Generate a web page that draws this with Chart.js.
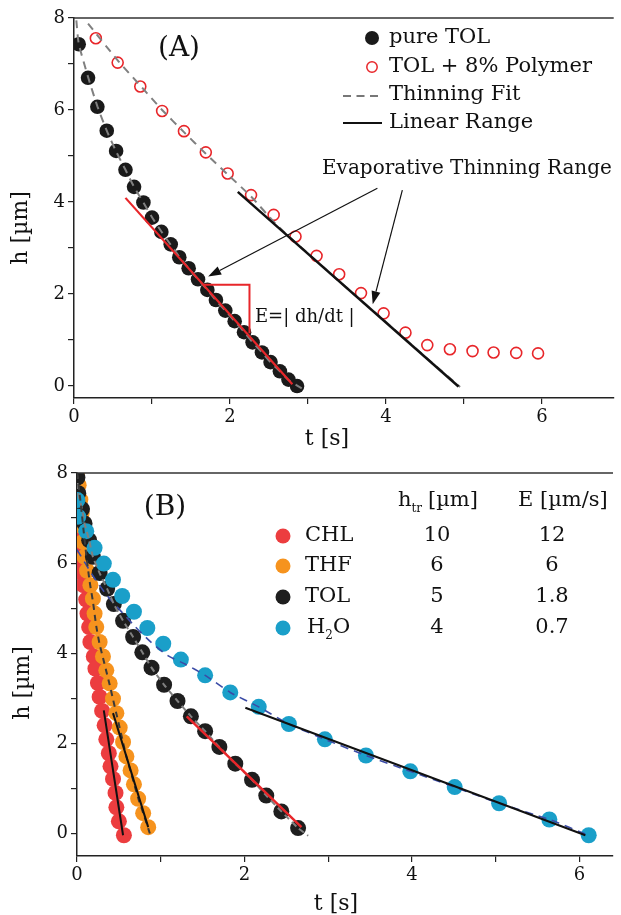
<!DOCTYPE html>
<html>
<head>
<meta charset="utf-8">
<script src="https://cdn.jsdelivr.net/npm/chart.js@4/dist/chart.umd.min.js"></script>
<style>
  html, body { margin: 0; padding: 0; background: #fff; }
  #wrap { position: relative; width: 621px; height: 915px; overflow: hidden; }
  canvas { position: absolute; left: 0; }
  #chartA { top: 0; }
  #chartB { top: 455px; }
</style>
</head>
<body>
<div id="wrap">
  <canvas id="chartA" width="621" height="455"></canvas>
  <canvas id="chartB" width="621" height="460"></canvas>
</div>
<script>
const SERIF = '"DejaVu Serif", serif';

// ---------- Panel A data ----------
const tolT = [0.06, 0.18, 0.30, 0.42, 0.54, 0.66, 0.77, 0.89, 1.00, 1.12, 1.24, 1.35, 1.47, 1.59, 1.71, 1.82, 1.94, 2.06, 2.18, 2.29, 2.41, 2.52, 2.64, 2.75, 2.86];
const tolH = [7.43, 6.70, 6.07, 5.55, 5.11, 4.70, 4.33, 3.99, 3.66, 3.35, 3.08, 2.80, 2.56, 2.32, 2.09, 1.87, 1.64, 1.41, 1.17, 0.95, 0.73, 0.52, 0.32, 0.14, 0.00];

const polyT = [0.28, 0.56, 0.85, 1.13, 1.41, 1.69, 1.97, 2.27, 2.56, 2.84, 3.11, 3.40, 3.68, 3.97, 4.25, 4.53, 4.82, 5.11, 5.38, 5.67, 5.95];
const polyH = [7.56, 7.03, 6.51, 5.98, 5.54, 5.08, 4.62, 4.15, 3.72, 3.25, 2.83, 2.43, 2.02, 1.58, 1.16, 0.89, 0.80, 0.76, 0.73, 0.72, 0.71];

const tolFitT = [0.03, 0.06, 0.18, 0.30, 0.42, 0.54, 0.66, 0.77, 0.89, 1.00, 1.12, 1.24, 1.35, 1.47, 1.59, 1.71, 1.82, 1.94, 2.06, 2.18, 2.29, 2.41, 2.52, 2.64, 2.75, 2.92];
const tolFitH = [7.95, 7.45, 6.72, 6.08, 5.55, 5.10, 4.70, 4.33, 3.99, 3.67, 3.36, 3.07, 2.81, 2.56, 2.32, 2.09, 1.86, 1.64, 1.41, 1.18, 0.95, 0.73, 0.52, 0.32, 0.13, -0.05];

const polyFitT = [0.18, 0.56, 0.85, 1.13, 1.41, 1.69, 1.97, 2.27, 2.60, 3.00, 3.50, 4.00, 4.50, 4.95];
const polyFitH = [7.88, 7.08, 6.53, 6.00, 5.52, 5.05, 4.60, 4.12, 3.50, 2.88, 2.13, 1.39, 0.64, -0.02];

const tolLinT = [0.66, 2.80];
const tolLinH = [4.09, 0.04];
const polyLinT = [2.10, 4.93];
const polyLinH = [4.22, -0.01];
const bracketT = [1.66, 2.25, 2.25];
const bracketH = [2.20, 2.20, 1.15];

// arrows: [tailT, tailH, headT, headH]
const arrowsA = [[3.89, 4.30, 1.72, 2.38], [4.21, 4.26, 3.83, 1.78]];

const xTicksA = [0, 1, 2, 3, 4, 5, 6];
const yTicksA = [0, 1, 2, 3, 4, 5, 6, 7, 8];

// ---------- Panel B data ----------
const chlT = [0.0, 0.005, 0.01, 0.015, 0.02, 0.025, 0.035, 0.075, 0.11, 0.125, 0.145, 0.16, 0.20, 0.22, 0.25, 0.27, 0.30, 0.33, 0.35, 0.38, 0.40, 0.43, 0.46, 0.47, 0.50, 0.56];
const chlH = [7.67, 7.36, 7.05, 6.74, 6.43, 6.12, 5.81, 5.51, 5.19, 4.88, 4.58, 4.25, 3.93, 3.66, 3.34, 3.03, 2.72, 2.40, 2.09, 1.78, 1.49, 1.21, 0.90, 0.58, 0.27, -0.04];

const thfT = [0.0, 0.02, 0.04, 0.055, 0.065, 0.07, 0.09, 0.12, 0.16, 0.19, 0.21, 0.23, 0.27, 0.31, 0.35, 0.39, 0.43, 0.47, 0.51, 0.55, 0.59, 0.64, 0.68, 0.73, 0.79, 0.85];
const thfH = [7.99, 7.73, 7.41, 7.10, 6.81, 6.47, 6.14, 5.83, 5.51, 5.21, 4.88, 4.58, 4.25, 3.93, 3.62, 3.33, 2.99, 2.67, 2.35, 2.03, 1.71, 1.40, 1.09, 0.77, 0.45, 0.14];

const tolBT = [0.005, 0.015, 0.06, 0.09, 0.145, 0.19, 0.27, 0.36, 0.44, 0.55, 0.67, 0.78, 0.89, 1.04, 1.20, 1.36, 1.53, 1.70, 1.89, 2.09, 2.26, 2.44, 2.64];
const tolBH = [7.90, 7.55, 7.20, 6.88, 6.51, 6.14, 5.78, 5.43, 5.09, 4.72, 4.36, 4.02, 3.68, 3.30, 2.94, 2.60, 2.27, 1.92, 1.55, 1.19, 0.84, 0.49, 0.12];

const h2oT = [0.005, 0.015, 0.11, 0.21, 0.32, 0.43, 0.54, 0.68, 0.84, 1.03, 1.24, 1.53, 1.83, 2.17, 2.53, 2.96, 3.45, 3.98, 4.51, 5.04, 5.64, 6.11];
const h2oH = [7.40, 7.03, 6.71, 6.34, 5.99, 5.63, 5.27, 4.92, 4.56, 4.21, 3.86, 3.51, 3.13, 2.81, 2.43, 2.09, 1.73, 1.38, 1.03, 0.67, 0.31, -0.04];

const thfFitT = [0.0, 0.02, 0.04, 0.06, 0.08, 0.11, 0.15, 0.19, 0.23, 0.27, 0.31, 0.35, 0.39, 0.43, 0.47, 0.51, 0.55, 0.59, 0.64, 0.69, 0.74, 0.80, 0.87];
const thfFitH = [8.0, 7.7, 7.4, 7.05, 6.7, 6.2, 5.6, 5.15, 4.6, 4.2, 3.9, 3.6, 3.3, 2.98, 2.66, 2.34, 2.02, 1.70, 1.38, 1.05, 0.73, 0.40, 0.0];

const tolBFitT = [0.0, 0.015, 0.06, 0.09, 0.145, 0.19, 0.27, 0.36, 0.44, 0.55, 0.67, 0.78, 0.89, 1.04, 1.20, 1.36, 1.53, 1.70, 1.89, 2.09, 2.26, 2.44, 2.64, 2.76];
const tolBFitH = [8.0, 7.55, 7.2, 6.88, 6.51, 6.14, 5.78, 5.43, 5.09, 4.72, 4.36, 4.02, 3.68, 3.30, 2.94, 2.60, 2.27, 1.92, 1.55, 1.19, 0.84, 0.49, 0.12, -0.05];

const h2oFitT = [0.0, 0.19, 0.35, 0.68, 0.88, 1.09, 1.29, 1.53, 1.83, 2.17, 2.53, 2.96, 3.45, 3.98, 4.51, 5.04, 5.64, 6.11];
const h2oFitH = [6.30, 5.72, 5.30, 4.62, 4.25, 3.94, 3.76, 3.51, 3.13, 2.81, 2.43, 2.09, 1.73, 1.38, 1.03, 0.67, 0.31, -0.04];

const chlLinT = [0.32, 0.55];
const chlLinH = [2.73, -0.04];
const thfLinT = [0.43, 0.85];
const thfLinH = [2.67, 0.14];
const tolBLinT = [1.31, 2.68];
const tolBLinH = [2.60, 0.14];
const h2oLinT = [2.01, 6.07];
const h2oLinH = [2.79, -0.04];

const solvents = ['CHL', 'THF', 'TOL', 'H2O'];
const hTr = ['10', '6', '5', '4'];
const evapRate = ['12', '6', '1.8', '0.7'];
const solventColors = ['#EC3D3F', '#F6931E', '#1E1E1E', '#1A9FC9'];

const xTicksB = [0, 1, 2, 3, 4, 5, 6];
const yTicksB = [0, 1, 2, 3, 4, 5, 6, 7, 8];

// ---------- helpers ----------
const pts = (t, h) => t.map((v, i) => ({ x: v, y: h[i] }));

function dots(t, h, color, r, order) {
    return { data: pts(t, h), backgroundColor: color, borderColor: color, pointRadius: r, pointHoverRadius: r, borderWidth: 0, showLine: false, order: order };
}

// straight segments; fits get a little smoothing
function curve(t, h, color, width, dash, order, tension) {
    return { data: pts(t, h), borderColor: color, borderWidth: width, borderDash: dash, pointRadius: 0, showLine: true, tension: tension || 0, fill: false, order: order };
}

function axes(xMax, yMin, xTicks, yTicks, yWidth, xHeight) {
    const base = () => ({
        type: 'linear',
        grid: { drawOnChartArea: false, drawTicks: true, tickLength: 6, color: '#222', lineWidth: 1.2 },
        border: { display: true, color: '#222', width: 1.5 },
        ticks: {
            font: { family: SERIF, size: 18 }, color: '#111', padding: 3,
            autoSkip: false, maxRotation: 0,
            callback: v => (v % 2 === 0 ? String(v) : '')
        }
    });
    return {
        x: Object.assign(base(), {
            min: 0, max: xMax,
            afterBuildTicks: s => { s.ticks = xTicks.map(v => ({ value: v })); },
            afterFit: s => { s.height = xHeight; }
        }),
        y: Object.assign(base(), {
            min: yMin, max: 8,
            afterBuildTicks: s => { s.ticks = yTicks.map(v => ({ value: v })); },
            afterFit: s => { s.width = yWidth; }
        })
    };
}

function text(ctx, str, x, y, size, align) {
    ctx.font = size + 'px ' + SERIF;
    ctx.fillStyle = '#111';
    ctx.textAlign = align || 'left';
    ctx.textBaseline = 'middle';
    ctx.fillText(str, x, y);
}

function seg(ctx, x1, y1, x2, y2, color, width, dash) {
    ctx.beginPath();
    ctx.setLineDash(dash || []);
    ctx.strokeStyle = color;
    ctx.lineWidth = width;
    ctx.moveTo(x1, y1);
    ctx.lineTo(x2, y2);
    ctx.stroke();
    ctx.setLineDash([]);
}

function arrow(ctx, x1, y1, x2, y2) {
    const ang = Math.atan2(y2 - y1, x2 - x1);
    const len = 13, half = 4.5;
    const bx = x2 - len * Math.cos(ang), by = y2 - len * Math.sin(ang);
    seg(ctx, x1, y1, bx, by, '#111', 1.2);
    ctx.beginPath();
    ctx.fillStyle = '#111';
    ctx.moveTo(x2, y2);
    ctx.lineTo(bx + half * Math.sin(ang), by - half * Math.cos(ang));
    ctx.lineTo(bx - half * Math.sin(ang), by + half * Math.cos(ang));
    ctx.closePath();
    ctx.fill();
}

function yTitle(ctx, cx, cy) {
    ctx.save();
    ctx.translate(cx, cy);
    ctx.rotate(-Math.PI / 2);
    text(ctx, 'h [\u00b5m]', 0, 0, 22, 'center');
    ctx.restore();
}

function topFrame(chart) {
    const { ctx, chartArea: a } = chart;
    seg(ctx, a.left - 0.75, a.top, a.right, a.top, '#333', 1.5);
}

// ---------- panel A overlay ----------
const overlayA = {
    id: 'overlayA',
    afterDraw(chart) {
        const { ctx, scales: { x, y } } = chart;
        ctx.save();
        topFrame(chart);
        text(ctx, '(A)', 179, 49, 28, 'center');
        yTitle(ctx, 21, 228);
        text(ctx, 't [s]', 327, 439, 22, 'center');

        // legend
        ctx.beginPath();
        ctx.fillStyle = '#1a1a1a';
        ctx.arc(372, 38, 7, 0, Math.PI * 2);
        ctx.fill();
        ctx.beginPath();
        ctx.strokeStyle = '#E8262A';
        ctx.lineWidth = 1.5;
        ctx.arc(372, 67, 5.2, 0, Math.PI * 2);
        ctx.stroke();
        seg(ctx, 343, 96, 382, 96, '#777', 2, [8, 5.5]);
        seg(ctx, 343, 123, 382, 123, '#111', 2);
        text(ctx, 'pure TOL', 389, 38, 21);
        text(ctx, 'TOL + 8% Polymer', 389, 67, 21);
        text(ctx, 'Thinning Fit', 389, 95, 21);
        text(ctx, 'Linear Range', 389, 123, 21);

        text(ctx, 'Evaporative Thinning Range', 322, 169, 20);
        arrowsA.forEach(a => arrow(ctx, x.getPixelForValue(a[0]), y.getPixelForValue(a[1]), x.getPixelForValue(a[2]), y.getPixelForValue(a[3])));
        text(ctx, 'E=| dh/dt |', x.getPixelForValue(2.32), y.getPixelForValue(1.50), 18);
        ctx.restore();
    }
};

// ---------- panel B overlay ----------
const overlayB = {
    id: 'overlayB',
    afterDraw(chart) {
        const { ctx } = chart;
        ctx.save();
        topFrame(chart);
        text(ctx, '(B)', 165, 53, 28, 'center');
        yTitle(ctx, 23, 228);
        text(ctx, 't [s]', 336, 449, 22, 'center');

        // table header
        const hy = 46;
        text(ctx, 'h', 398, hy, 21);
        ctx.font = '21px ' + SERIF;
        const hw = ctx.measureText('h').width;
        text(ctx, 'tr', 398 + hw, hy + 8, 12);
        text(ctx, '[\u00b5m]', 428, hy, 21);
        text(ctx, 'E [\u00b5m/s]', 518, hy, 21);

        const rowsY = [81, 111, 142, 173];
        solvents.forEach((name, i) => {
            const ry = rowsY[i];
            ctx.beginPath();
            ctx.fillStyle = solventColors[i];
            ctx.arc(283, ry, 7.5, 0, Math.PI * 2);
            ctx.fill();
            if (name === 'H2O') {
                text(ctx, 'H', 307, ry, 21);
                ctx.font = '21px ' + SERIF;
                const w = ctx.measureText('H').width;
                text(ctx, '2', 307 + w, ry + 8, 12);
                ctx.font = '12px ' + SERIF;
                const w2 = ctx.measureText('2').width;
                text(ctx, 'O', 307 + w + w2, ry, 21);
            } else {
                text(ctx, name, 305, ry, 21);
            }
            text(ctx, hTr[i], 437, ry, 21, 'center');
            text(ctx, evapRate[i], 552, ry, 21, 'center');
        });
        ctx.restore();
    }
};

const baseOptions = {
    responsive: false,
    animation: false,
    events: [],
    plugins: { legend: { display: false }, tooltip: { enabled: false } }
};

new Chart(document.getElementById('chartA'), {
    type: 'scatter',
    data: {
        datasets: [
            curve(bracketT, bracketH, '#E8262A', 2, [], 1),
            curve(tolLinT, tolLinH, '#E8262A', 2.2, [], 1),
            curve(polyLinT, polyLinH, '#111', 2.5, [], 1),
            curve(tolFitT, tolFitH, '#808080', 2, [8, 6], 2, 0.2),
            curve(polyFitT, polyFitH, '#808080', 2, [8, 6], 2, 0.2),
            Object.assign(dots(polyT, polyH, 'rgba(0,0,0,0)', 5.5, 3), { borderColor: '#E8262A', borderWidth: 1.6 }),
            dots(tolT, tolH, '#1a1a1a', 7.3, 4)
        ]
    },
    options: Object.assign({}, baseOptions, {
        layout: { padding: { top: 18, right: 0, left: 0, bottom: 0 } },
        scales: axes(6.92, -0.26, xTicksA, yTicksA, 74, 57)
    }),
    plugins: [overlayA]
});

new Chart(document.getElementById('chartB'), {
    type: 'scatter',
    data: {
        datasets: [
            curve(chlLinT, chlLinH, '#111', 2, [], 1),
            curve(thfLinT, thfLinH, '#111', 2, [], 1),
            curve(tolBLinT, tolBLinH, '#E8262A', 2.5, [], 1),
            curve(h2oLinT, h2oLinH, '#111', 2, [], 1),
            curve(thfFitT, thfFitH, '#3a3a3a', 2, [6, 5], 2, 0.2),
            curve(tolBFitT, tolBFitH, '#808080', 2, [6, 4], 2, 0.2),
            curve(h2oFitT, h2oFitH, '#3B4BA6', 1.6, [8, 6], 2, 0.2),
            dots(h2oT, h2oH, solventColors[3], 8, 3),
            dots(tolBT, tolBH, solventColors[2], 8, 4),
            dots(thfT, thfH, solventColors[1], 8, 5),
            dots(chlT, chlH, solventColors[0], 8, 6)
        ]
    },
    options: Object.assign({}, baseOptions, {
        layout: { padding: { top: 18, right: 0, left: 0, bottom: 0 } },
        scales: axes(6.4, -0.5, xTicksB, yTicksB, 77, 59)
    }),
    plugins: [overlayB]
});
</script>
</body>
</html>
